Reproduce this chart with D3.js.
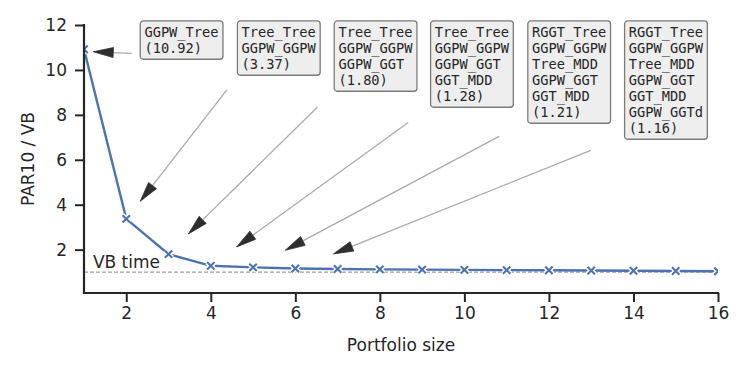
<!DOCTYPE html>
<head>
    <script src="https://d3js.org/d3.v7.min.js"></script>
    <style>
        body { margin: 0; background: #fff; }
        text { font-family: "DejaVu Sans", sans-serif; fill: #262626; }
    </style>
</head>
<body>
    <svg></svg>
</body>

<script>
    // Data
    var sizes = [1, 2, 3, 4, 5, 6, 7, 8, 9, 10, 11, 12, 13, 14, 15, 16];
    var ratios = [10.92, 3.37, 1.80, 1.28, 1.21, 1.16, 1.14, 1.12, 1.11, 1.10, 1.09, 1.08, 1.07, 1.06, 1.05, 1.04];
    var xTicks = [2, 4, 6, 8, 10, 12, 14, 16];
    var yTicks = [2, 4, 6, 8, 10, 12];
    var vbTime = 1;

    // Annotations: label lines, box anchor (data coords), arrow tail and tip (data coords)
    var noteLines = [
        ["GGPW_Tree", "(10.92)"],
        ["Tree_Tree", "GGPW_GGPW", "(3.37)"],
        ["Tree_Tree", "GGPW_GGPW", "GGPW_GGT", "(1.80)"],
        ["Tree_Tree", "GGPW_GGPW", "GGPW_GGT", "GGT_MDD", "(1.28)"],
        ["RGGT_Tree", "GGPW_GGPW", "Tree_MDD", "GGPW_GGT", "GGT_MDD", "(1.21)"],
        ["RGGT_Tree", "GGPW_GGPW", "Tree_MDD", "GGPW_GGT", "GGT_MDD", "GGPW_GGTd", "(1.16)"]
    ];
    var boxX = [2.33, 4.63, 6.92, 9.20, 11.50, 13.79];
    var boxY = 12.18;
    var tailX = [2.13, 4.38, 6.52, 8.67, 10.82, 12.99];
    var tailY = [10.74, 9.11, 8.34, 7.66, 7.04, 6.42];
    var tipX = [1.22, 2.33, 3.47, 4.61, 5.76, 6.90];
    var tipY = [10.81, 4.15, 2.70, 2.12, 1.97, 1.81];

    // Variables
    var width = 747, height = 374;
    var mLeft = 84, mRight = 718, mTop = 25, mBottom = 293;
    var blue = '#4c72b0';
    var ink = '#262626';

    var svg = d3.select('svg')
        .attr('width', width)
        .attr('height', height);

    var x = d3.scaleLinear().domain([1, 16]).range([mLeft, mRight]);
    var y = d3.scaleLinear().domain([0.07, 12]).range([mBottom, mTop]);

    svg.append('clipPath').attr('id', 'plot')
        .append('rect')
        .attr('x', mLeft).attr('y', mTop)
        .attr('width', mRight - mLeft).attr('height', mBottom - mTop);

    // VB time reference line
    svg.append('line')
        .attr('x1', mLeft).attr('x2', mRight)
        .attr('y1', y(vbTime)).attr('y2', y(vbTime))
        .style('stroke', '#a0a0a0')
        .style('stroke-width', 1.2)
        .style('stroke-dasharray', '4,2');

    svg.append('text')
        .attr('x', x(1.21)).attr('y', y(1.2))
        .style('font-size', '17px')
        .text('VB time');

    // Series line with markers
    var pts = sizes.map(function (s, i) { return [s, ratios[i]]; });
    var g = svg.append('g').attr('clip-path', 'url(#plot)');

    g.append('path')
        .datum(pts)
        .attr('d', d3.line().x(function (d) { return x(d[0]); }).y(function (d) { return y(d[1]); }))
        .style('fill', 'none')
        .style('stroke', blue)
        .style('stroke-width', 2.4);

    var cross = 'M-3.7,-3.7L3.7,3.7M-3.7,3.7L3.7,-3.7';
    var marks = g.selectAll('g.mark')
        .data(pts)
        .enter().append('g')
        .attr('class', 'mark')
        .attr('transform', function (d) { return 'translate(' + x(d[0]) + ',' + y(d[1]) + ')'; });
    marks.append('path').attr('d', cross)
        .style('stroke', '#fff').style('stroke-width', 5);
    marks.append('path').attr('d', cross)
        .style('stroke', blue).style('stroke-width', 2.1);

    // Axes
    var xAxis = svg.append('g')
        .attr('transform', 'translate(0,' + mBottom + ')')
        .call(d3.axisBottom(x).tickValues(xTicks).tickSize(9).tickPadding(5));
    var yAxis = svg.append('g')
        .attr('transform', 'translate(' + mLeft + ',0)')
        .call(d3.axisLeft(y).tickValues(yTicks).tickSize(9).tickPadding(8));

    [xAxis, yAxis].forEach(function (a) {
        a.select('.domain').remove();
        a.selectAll('.tick line').style('stroke', ink).style('stroke-width', 2);
        a.selectAll('.tick text').style('font-size', '17px').style('fill', ink)
            .style('font-family', '"DejaVu Sans", sans-serif');
    });

    svg.append('line')
        .attr('x1', mLeft).attr('x2', mRight).attr('y1', mBottom).attr('y2', mBottom)
        .style('stroke', ink).style('stroke-width', 2.2).style('stroke-linecap', 'square');
    svg.append('line')
        .attr('x1', mLeft).attr('x2', mLeft).attr('y1', mTop).attr('y2', mBottom)
        .style('stroke', ink).style('stroke-width', 2.2).style('stroke-linecap', 'square');

    // Axis labels
    svg.append('text')
        .attr('x', (mLeft + mRight) / 2).attr('y', 351)
        .attr('text-anchor', 'middle')
        .style('font-size', '17px')
        .text('Portfolio size');

    svg.append('text')
        .attr('transform', 'translate(34,' + (mTop + mBottom) / 2 + ') rotate(-90)')
        .attr('text-anchor', 'middle')
        .style('font-size', '17px')
        .text('PAR10 / VB');

    // Arrows
    var headLen = 20, headHalf = 5;
    noteLines.forEach(function (lines, i) {
        var x0 = x(tailX[i]), y0 = y(tailY[i]);
        var x1 = x(tipX[i]), y1 = y(tipY[i]);
        var dx = x1 - x0, dy = y1 - y0;
        var len = Math.sqrt(dx * dx + dy * dy);
        var ux = dx / len, uy = dy / len;
        var bx = x1 - ux * headLen, by = y1 - uy * headLen;
        svg.append('line')
            .attr('x1', x0).attr('y1', y0).attr('x2', bx).attr('y2', by)
            .style('stroke', '#aaaaaa').style('stroke-width', 1.3);
        svg.append('path')
            .attr('d', 'M' + x1 + ',' + y1 +
                'L' + (bx - uy * headHalf) + ',' + (by + ux * headHalf) +
                'L' + (bx + uy * headHalf) + ',' + (by - ux * headHalf) + 'Z')
            .style('fill', '#2e2e2e')
            .style('stroke', '#2e2e2e')
            .style('stroke-width', 0.8);
    });

    // Annotation boxes
    var lineH = 16, charW = 8.26, pad = 4.2;
    noteLines.forEach(function (lines, i) {
        var bx = x(boxX[i]), by = y(boxY);
        var w = d3.max(lines, function (l) { return l.length; }) * charW + 2 * pad;
        var h = lines.length * lineH + 6.3;
        var box = svg.append('g').attr('transform', 'translate(' + bx + ',' + by + ')');
        box.append('rect')
            .attr('width', w).attr('height', h)
            .attr('rx', 3).attr('ry', 3)
            .style('fill', '#eeeeee')
            .style('stroke', '#7a7a7a')
            .style('stroke-width', 1.3);
        box.selectAll('text')
            .data(lines)
            .enter().append('text')
            .attr('x', pad)
            .attr('y', function (d, j) { return 15.7 + j * lineH; })
            .style('font-family', '"DejaVu Sans Mono", monospace')
            .style('font-size', '13.7px')
            .style('fill', '#262626')
            .text(function (d) { return d; });
    });
</script>
